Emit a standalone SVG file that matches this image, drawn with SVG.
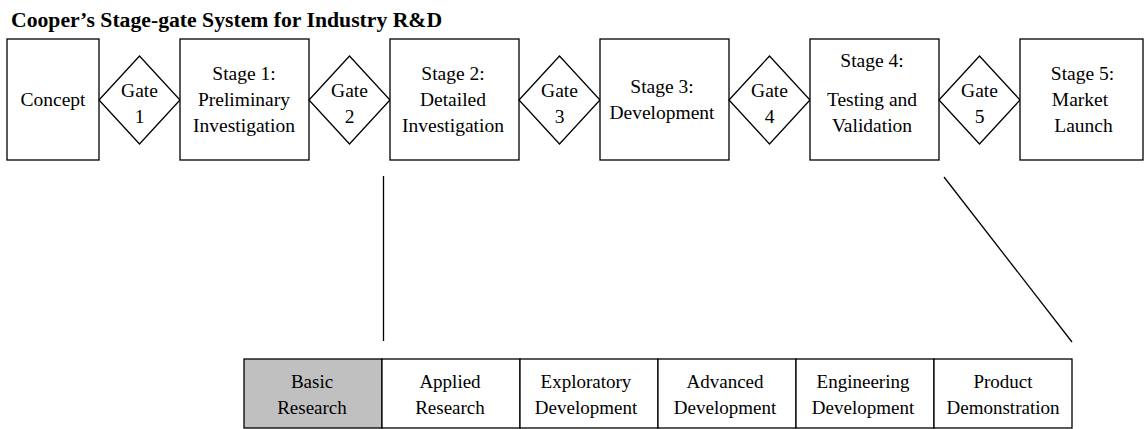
<svg xmlns="http://www.w3.org/2000/svg" width="1146" height="429" viewBox="0 0 1146 429">
<style>
.b{fill:#fff;stroke:#000;stroke-width:1.3}
.g{fill:#c0c0c0;stroke:#000;stroke-width:1.3}
text{fill:#000;text-anchor:middle}
.t{font-size:19.5px}
.s{font-size:19px}
.ttl{font-size:21.7px;font-weight:bold;text-anchor:start}
.c{stroke:#000;stroke-width:1.3;fill:none}
</style>
<g font-family="'Liberation Serif', 'DejaVu Serif', 'Noto Serif', serif">
<text class="ttl" x="11" y="26.5">Cooper’s Stage-gate System for Industry R&amp;D</text>
<g id="concept"><rect class="b" x="7" y="39" width="92" height="121"/><text class="t" x="53" y="106">Concept</text></g>
<g id="gate1"><polygon class="b" points="99,100 139.5,56 180,100 139.5,144"/><text class="t" x="139.5" y="96.5">Gate</text><text class="t" x="139.5" y="123">1</text></g>
<g id="stage1"><rect class="b" x="180" y="39" width="129" height="121"/><text class="t" x="244" y="79.5">Stage 1:</text><text class="t" x="244" y="106">Preliminary</text><text class="t" x="244" y="132">Investigation</text></g>
<g id="gate2"><polygon class="b" points="309,100 349.5,56 390,100 349.5,144"/><text class="t" x="349.5" y="96.5">Gate</text><text class="t" x="349.5" y="123">2</text></g>
<g id="stage2"><rect class="b" x="390" y="39" width="129" height="121"/><text class="t" x="453" y="79.5">Stage 2:</text><text class="t" x="453" y="106">Detailed</text><text class="t" x="453" y="132">Investigation</text></g>
<g id="gate3"><polygon class="b" points="519,100 559.5,56 600,100 559.5,144"/><text class="t" x="559.5" y="96.5">Gate</text><text class="t" x="559.5" y="123">3</text></g>
<g id="stage3"><rect class="b" x="600" y="39" width="129" height="121"/><text class="t" x="662" y="92.5">Stage 3:</text><text class="t" x="662" y="118.5">Development</text></g>
<g id="gate4"><polygon class="b" points="729,100 769.5,56 810,100 769.5,144"/><text class="t" x="769.5" y="96.5">Gate</text><text class="t" x="769.5" y="123">4</text></g>
<g id="stage4"><rect class="b" x="810" y="39" width="129" height="121"/><text class="t" x="872" y="67">Stage 4:</text><text class="t" x="872" y="106">Testing and</text><text class="t" x="872" y="132">Validation</text></g>
<g id="gate5"><polygon class="b" points="939,100 979.5,56 1020,100 979.5,144"/><text class="t" x="979.5" y="96.5">Gate</text><text class="t" x="979.5" y="123">5</text></g>
<g id="stage5"><rect class="b" x="1020" y="39" width="123" height="121"/><text class="t" x="1082.5" y="79.5">Stage 5:</text><text class="t" x="1080" y="106">Market</text><text class="t" x="1083.5" y="132">Launch</text></g>
<g id="connectors"><line class="c" x1="383.5" y1="176" x2="383.5" y2="341"/><line class="c" x1="944" y1="177" x2="1072" y2="342"/></g>
<g id="basic"><rect class="g" x="244" y="359" width="138" height="69"/><text class="s" x="312" y="388">Basic</text><text class="s" x="312" y="414">Research</text></g>
<g id="applied"><rect class="b" x="382" y="359" width="138" height="69"/><text class="s" x="450" y="388">Applied</text><text class="s" x="450" y="414">Research</text></g>
<g id="exploratory"><rect class="b" x="520" y="359" width="138" height="69"/><text class="s" x="586" y="388">Exploratory</text><text class="s" x="586" y="414">Development</text></g>
<g id="advanced"><rect class="b" x="658" y="359" width="138" height="69"/><text class="s" x="725" y="388">Advanced</text><text class="s" x="725" y="414">Development</text></g>
<g id="engineering"><rect class="b" x="796" y="359" width="138" height="69"/><text class="s" x="863" y="388">Engineering</text><text class="s" x="863" y="414">Development</text></g>
<g id="product"><rect class="b" x="934" y="359" width="138" height="69"/><text class="s" x="1003" y="388">Product</text><text class="s" x="1003" y="414">Demonstration</text></g>
</g>
</svg>
